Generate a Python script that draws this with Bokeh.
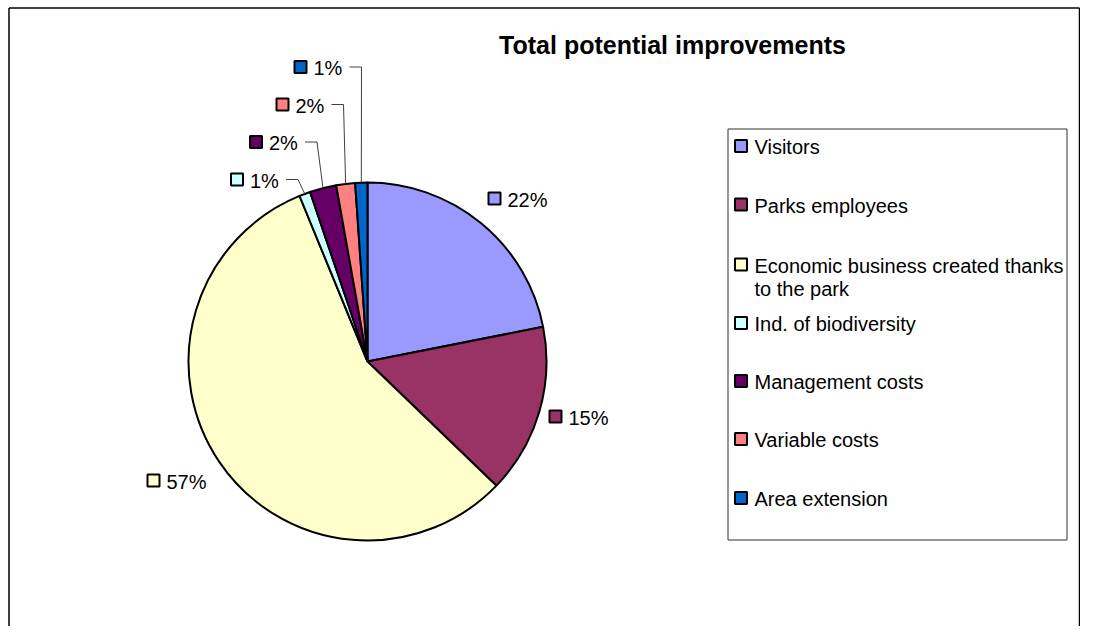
import math
from bokeh.plotting import figure
from bokeh.models import Range1d, ColumnDataSource
from bokeh.core.properties import value
from bokeh.embed import file_html
from bokeh.resources import INLINE

# ---- data ----
categories = ["Visitors", "Parks employees", "Economic business created thanks to the park",
              "Ind. of biodiversity", "Management costs", "Variable costs", "Area extension"]
legend_lines = [["Visitors"], ["Parks employees"], ["Economic business created thanks", "to the park"],
                ["Ind. of biodiversity"], ["Management costs"], ["Variable costs"], ["Area extension"]]
values = [21.9, 15.3, 56.6, 1.0, 2.4, 1.7, 1.1]
title = "Total potential improvements"

# ---- styles / layout ----
colors = ["#9999FF", "#993366", "#FFFFCC", "#CCFFFF", "#660066", "#FF8080", "#0066CC"]
FONT = "Liberation Sans"
W, H = 1080, 626

def sx(x):
    return x

def sy(y):
    return H - y

# label key centres (px) for each slice
label_pos = [(494, 198), (555, 416), (153, 480), (236.5, 179), (255.5, 141.5), (282, 104), (300, 66.5)]
leader = [False, False, False, True, True, True, True]

cx, cy, R = sx(367), sy(361), 179

p = figure(width=W, height=H, x_range=Range1d(0, W), y_range=Range1d(0, H),
           output_backend="svg", toolbar_location=None, min_border=0,
           x_axis_location=None, y_axis_location=None)
p.grid.visible = False
p.outline_line_color = None
p.background_fill_color = "white"
p.border_fill_color = "white"

# outer chart border (top, left, right)
p.segment(x0=[sx(8.5), sx(8.5), sx(1079)], y0=[sy(7.5), sy(7.5), sy(7.5)],
          x1=[sx(1079), sx(8.5), sx(1079)], y1=[sy(7.5), 0, 0],
          line_color="black", line_width=1.5)

# pie
total = sum(values)
starts, ends, mids = [], [], []
cum = 0.0
for v in values:
    a0 = math.pi / 2 - 2 * math.pi * cum / total
    cum += v
    a1 = math.pi / 2 - 2 * math.pi * cum / total
    starts.append(a0)
    ends.append(a1)
    mids.append((a0 + a1) / 2)

src = ColumnDataSource(dict(start=starts, end=ends, color=colors))
p.wedge(x=cx, y=cy, radius=R, start_angle="start", end_angle="end", direction="clock",
        fill_color="color", line_color="black", line_width=2, source=src)

# data labels
lab_x = [sx(px) for px, py in label_pos]
lab_y = [sy(py) for px, py in label_pos]
lab_txt = ["%d%%" % round(v) for v in values]
p.rect(x=lab_x, y=lab_y, width=12, height=12, width_units="screen", height_units="screen",
       fill_color=colors, line_color="black", line_width=2)
p.text(x=[x + 13 for x in lab_x], y=[y - 1 for y in lab_y], text=lab_txt,
       text_font=value(FONT), text_font_size="20px", text_baseline="middle",
       text_align="left", text_color="black")

# leader lines for the small slices
lxs, lys = [], []
for i, use in enumerate(leader):
    if not use:
        continue
    px, py = label_pos[i]
    ex = cx + R * math.cos(mids[i])
    ey = cy + R * math.sin(mids[i])
    lxs.append([sx(px + 49), sx(px + 61), ex])
    lys.append([sy(py), sy(py), ey])
p.multi_line(xs=lxs, ys=lys, line_color="#404040", line_width=1)

# title
p.text(x=[sx(672)], y=[sy(44)], text=[title], text_font=value(FONT), text_font_size="25px",
       text_font_style="bold", text_align="center", text_baseline="middle", text_color="black")

# legend box
p.quad(left=[sx(727.5)], right=[sx(1066.5)], top=[sy(128.5)], bottom=[sy(539.5)],
       fill_color="white", line_color="#303030", line_width=1)
leg_y = [145.5, 204, 264, 322.5, 380.5, 438.5, 497.5]
p.rect(x=[sx(740.5)] * len(leg_y), y=[sy(y) for y in leg_y], width=12, height=12,
       width_units="screen", height_units="screen", fill_color=colors,
       line_color="black", line_width=2)
tx, ty, tt = [], [], []
for y, lines in zip(leg_y, legend_lines):
    for k, line in enumerate(lines):
        tx.append(sx(754))
        ty.append(sy(y + 23 * k) - 1)
        tt.append(line)
p.text(x=tx, y=ty, text=tt, text_font=value(FONT), text_font_size="20px",
       text_baseline="middle", text_align="left", text_color="black")

open("out.html", "w").write(file_html(p, INLINE))
